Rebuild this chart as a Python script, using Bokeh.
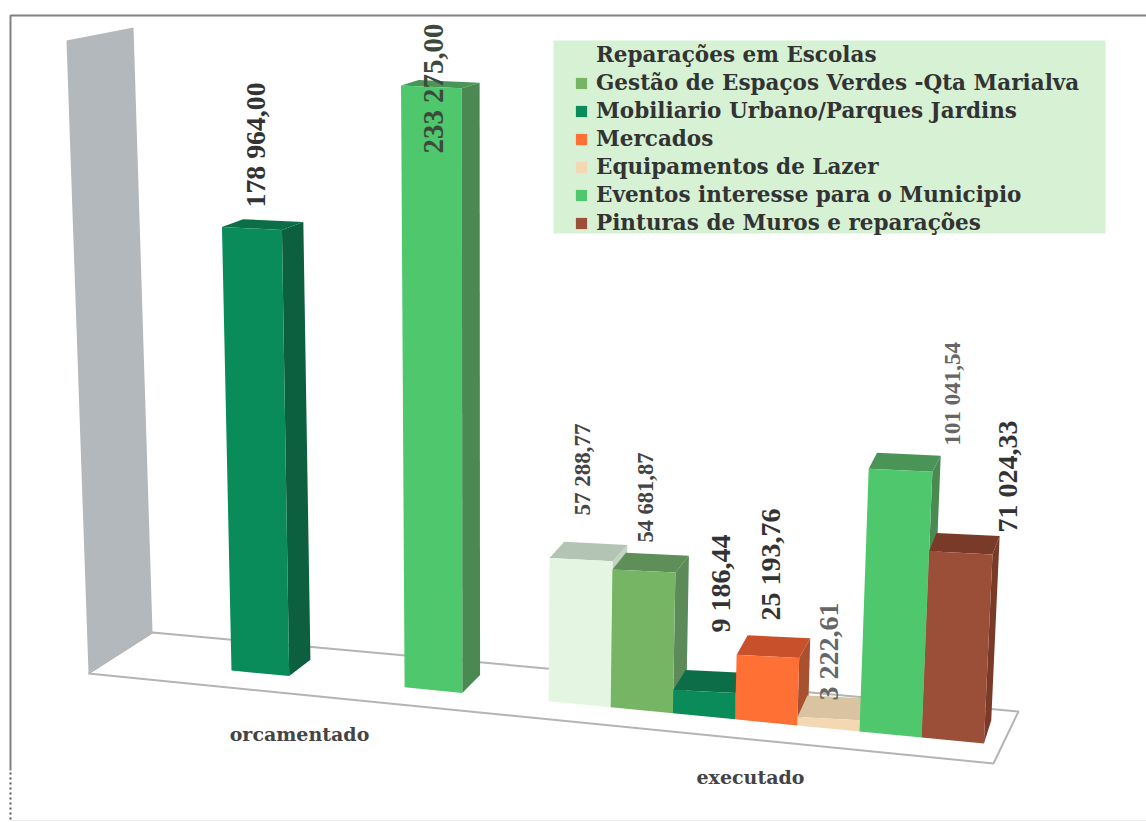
import math
from bokeh.plotting import figure
from bokeh.models import Range1d, Legend, LegendItem
from bokeh.core.properties import value
from bokeh.embed import file_html
from bokeh.resources import INLINE

# ---------- data ----------
categories = ["orcamentado", "executado"]
series_names = [
    "Reparações em Escolas",
    "Gestão de Espaços Verdes -Qta Marialva",
    "Mobiliario Urbano/Parques Jardins",
    "Mercados",
    "Equipamentos de Lazer",
    "Eventos interesse para o Municipio",
    "Pinturas de Muros e reparações",
]
orcamentado = [None, None, 178964.00, None, None, 233275.00, None]
executado = [57288.77, 54681.87, 9186.44, 25193.76, 3222.61, 101041.54, 71024.33]
orcamentado_labels = [None, None, "178 964,00", None, None, "233 275,00", None]
executado_labels = ["57 288,77", "54 681,87", "9 186,44", "25 193,76", "3 222,61", "101 041,54", "71 024,33"]

# ---------- styles ----------
front_colors = ["#e4f6e2", "#76b564", "#0a8c5a", "#ff7035", "#f4d8b4", "#4fc76c", "#9c4f38"]
top_colors = ["#b4c4b4", "#5f8f58", "#0c6e48", "#c8512c", "#d9c3a0", "#4a9458", "#7a3a2a"]
side_colors = ["#c4d4c4", "#5c8a58", "#0c5f3f", "#a8502f", "#d9c3a0", "#4a8a52", "#7a3a28"]
LEGEND_BG = "#d6f1d3"
TEXT = "#333333"
FONT = "DejaVu Serif"
VALUE_FONT = "Liberation Serif"

# ---------- 3-D projection (screen pixels) ----------
GROUP_X0 = [115.6, 548.0]   # first slot left edge of each category
SLOT_W = [57.7, 62.2]       # slot width in each category
PX_K0 = [0.00241, 0.00250]  # pixels per unit at slot 0
PX_KS = [0.000034, 0.000020]  # perspective growth per slot


def base_y(x):
    return 670 + 0.097 * (x - 231)


def lean(x, h):
    return h * (x - 470) * 0.00009


def depth(x, y):
    dx = 27 - 0.02 * x
    dy = -(5 + 0.021 * (y - 60)) * (0.8 + 0.0004 * x)
    return dx, dy


def project(group, slot, v):
    w = SLOT_W[group]
    x0 = GROUP_X0[group] + slot * w
    x1 = x0 + w
    h = v * (PX_K0[group] + PX_KS[group] * slot)
    yb0, yb1 = base_y(x0), base_y(x1)
    xt0, xt1 = x0 + lean(x0, h), x1 + lean(x1, h)
    yt0 = yb0 - h
    yt1 = yt0 + 0.05 * w
    dxt, dyt = depth(xt1, yt1)
    dxb, dyb = depth(x1, yb1)
    front = ([x0, x1, xt1, xt0], [yb0, yb1, yt1, yt0])
    side = ([x1, x1 + dxb, xt1 + dxt, xt1], [yb1, yb1 + dyb, yt1 + dyt, yt1])
    top = ([xt0, xt1, xt1 + dxt, xt0 + dxt], [yt0, yt1, yt1 + dyt, yt0 + dyt])
    return front, side, top


p = figure(width=1146, height=822, output_backend="svg", toolbar_location=None,
           x_range=Range1d(0, 1146), y_range=Range1d(822, 0),
           min_border=0, outline_line_color=None, background_fill_color="#ffffff")
p.axis.visible = False
p.grid.visible = False

# page frame of the scan
p.line([10, 10, 1146], [770, 15, 15], line_color="#808080", line_width=2)
p.line([10, 10], [772, 820], line_color="#555555", line_width=2, line_dash="2 3")
p.line([10, 1146], [820, 820], line_color="#eeeeee", line_width=1)

# side wall and floor
p.patch([66, 133, 152, 88], [40, 27, 632, 672], fill_color="#b2b8bb", line_color=None)
p.patch([88, 993, 1018, 152], [673, 763, 711, 632], fill_color="#ffffff",
        line_color="#b4b4b4", line_width=2)

# legend panel
p.quad(left=[553], right=[1105], top=[40], bottom=[233], fill_color=LEGEND_BG, line_color=None)

# bars
groups = [orcamentado, executado]
legend_items = []
for s, name in enumerate(series_names):
    fx, fy, sx, sy, tx, ty = [], [], [], [], [], []
    for g, vals in enumerate(groups):
        if vals[s] is None:
            continue
        f, sd, t = project(g, s, vals[s])
        fx.append(f[0]); fy.append(f[1])
        sx.append(sd[0]); sy.append(sd[1])
        tx.append(t[0]); ty.append(t[1])
    p.patches(sx, sy, fill_color=side_colors[s], line_color=None)
    p.patches(tx, ty, fill_color=top_colors[s], line_color=None)
    r = p.patches(fx, fy, fill_color=front_colors[s], line_color=None)
    if s == 0:
        # the first series' key is invisible against the panel in the reference
        r = p.patches([[]], [[]], fill_color=LEGEND_BG, line_color=None)
    legend_items.append(LegendItem(label=name, renderers=[r]))

# value labels: anchor (x, start y), font size, colour
lab_layout = {
    "178 964,00": (255, 207, 27.8, TEXT),
    "233 275,00": (432, 153, 28.9, "#3c4a3c"),
    "57 288,77": (582, 515, 23, "#444444"),
    "54 681,87": (645, 542, 22.5, "#444444"),
    "9 186,44": (720, 632, 28, TEXT),
    "25 193,76": (770, 620, 28, TEXT),
    "3 222,61": (828, 700, 28, "#666666"),
    "101 041,54": (952, 445, 23, "#666666"),
    "71 024,33": (1007, 532, 28, TEXT),
}
for lab in [l for l in orcamentado_labels + executado_labels if l]:
    lx, ly, fs, col = lab_layout[lab]
    p.text([lx], [ly], text=[lab], angle=math.pi / 2, text_align="left", text_baseline="middle",
           text_font=value(VALUE_FONT), text_font_style="bold",
           text_font_size=f"{fs}px", text_color=col)

# category labels
p.text([299, 750], [733, 776], text=categories, text_align="center", text_baseline="middle",
       text_font=value(FONT), text_font_style="bold", text_font_size="19px", text_color="#444444")

legend = Legend(items=legend_items, location=(574, 587), orientation="vertical",
                background_fill_alpha=0, border_line_color=None, margin=0, padding=0, spacing=3,
                glyph_width=14, glyph_height=14, label_standoff=8,
                label_height=24, label_text_font=FONT, label_text_font_size="21.5px",
                label_text_font_style="bold", label_text_color=TEXT)
p.add_layout(legend)

open("out.html", "w").write(file_html(p, INLINE))
